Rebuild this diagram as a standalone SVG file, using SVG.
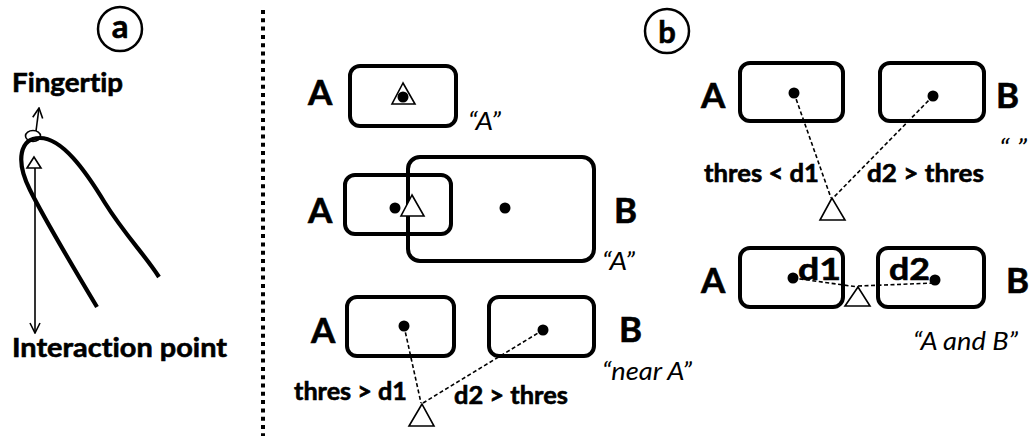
<svg xmlns="http://www.w3.org/2000/svg" width="1033" height="436" viewBox="0 0 1033 436">
  <defs>
    <style>
      text { font-variant-ligatures: none; font-feature-settings: "liga" 0, "dlig" 0; }
      .box { fill: none; stroke: #000; stroke-width: 4; }
      .dot { fill: #000; }
      .tri { fill: #fff; stroke: #000; stroke-width: 1.6; stroke-linejoin: miter; }
      .dash { fill: none; stroke: #000; stroke-width: 1.6; stroke-dasharray: 4 2.5; }
      .thin { fill: none; stroke: #000; stroke-width: 1.6; }
      .big, .cap, .mid { font-family: Lato, "Liberation Sans", sans-serif; font-weight: bold; fill: #000; stroke: #000; stroke-width: 0.6; }
      .big { font-size: 35px; }
      .cap { font-size: 27px; }
      .mid { font-size: 25px; }
      .q { font-family: Lato, "Liberation Sans", sans-serif; font-style: italic; font-size: 25px; fill: #000; }
      .badge { fill: none; stroke: #000; stroke-width: 2.5; }
    </style>
    <marker id="open" viewBox="0 0 12 12" refX="11" refY="6" markerWidth="12" markerHeight="12" markerUnits="userSpaceOnUse" orient="auto">
      <path d="M1 1 L11 6 L1 11" fill="none" stroke="#000" stroke-width="1.6"/>
    </marker>
  </defs>

  <!-- panel badges -->
  <g id="badge-a">
    <circle class="badge" cx="120" cy="29" r="22"/>
    <text class="cap" x="120" y="38" text-anchor="middle" style="font-size:33px">a</text>
  </g>
  <g id="badge-b">
    <circle class="badge" cx="667" cy="31" r="22"/>
    <text class="cap" x="667" y="43" text-anchor="middle" style="font-size:31px">b</text>
  </g>

  <!-- divider -->
  <line x1="263" y1="10" x2="263" y2="436" stroke="#000" stroke-width="4" stroke-dasharray="4 4.3"/>

  <!-- panel a: finger sketch -->
  <g id="finger">
    <path d="M97 307 C70 262 45 220 30 190 C15 160 20 138 40 138 C62 138 85 170 105 203 C125 235 145 255 159 277" fill="none" stroke="#000" stroke-width="4.2" stroke-linecap="butt"/>
    <ellipse cx="33" cy="136" rx="7.5" ry="5.5" class="thin"/>
  </g>
  <g id="interaction-marker">
    <polygon class="tri" points="34,157 27,168 41,168"/>
  </g>
  <g id="label-fingertip">
    <text class="cap" x="12" y="92" textLength="111" lengthAdjust="spacingAndGlyphs">Fingertip</text>
  </g>
  <g id="label-interaction">
    <text class="cap" x="12" y="357" textLength="215" lengthAdjust="spacingAndGlyphs">Interaction point</text>
  </g>

  <!-- panel b, column 1 -->
  <g id="row1">
    <text class="big" x="308" y="105">A</text>
    <rect class="box" x="350" y="66" width="106" height="60" rx="10"/>
    <polygon class="tri" points="403,83 392,104 415,104"/>
    <circle class="dot" cx="403" cy="97" r="5.5"/>
    <text class="q" x="468" y="130" textLength="33" lengthAdjust="spacingAndGlyphs">“A”</text>
  </g>

  <g id="row2">
    <text class="big" x="308" y="223">A</text>
    <rect class="box" x="345" y="175" width="106" height="59" rx="10"/>
    <rect class="box" x="408" y="157" width="186" height="104" rx="12"/>
    <circle class="dot" cx="395" cy="208" r="5.5"/>
    <polygon class="tri" points="412,195 401,216 424,216"/>
    <circle class="dot" cx="505" cy="208" r="5.5"/>
    <text class="big" x="614" y="223">B</text>
    <text class="q" x="602" y="270" textLength="33" lengthAdjust="spacingAndGlyphs">“A”</text>
  </g>

  <g id="row3">
    <text class="big" x="311" y="343">A</text>
    <rect class="box" x="347" y="297" width="107" height="59" rx="10"/>
    <circle class="dot" cx="404" cy="326" r="5.5"/>
    <rect class="box" x="489" y="297" width="105" height="59" rx="10"/>
    <circle class="dot" cx="543" cy="330" r="5.5"/>
    <polygon class="tri" points="422,404 409,426 434,426"/>
    <text class="big" x="619" y="342">B</text>
    <text class="q" x="602" y="380" textLength="90" lengthAdjust="spacingAndGlyphs">“near A”</text>
    <text class="mid" x="294" y="400" textLength="113" lengthAdjust="spacingAndGlyphs">thres &gt; d1</text>
    <text class="mid" x="454" y="404" textLength="114" lengthAdjust="spacingAndGlyphs">d2 &gt; thres</text>
  </g>

  <!-- panel b, column 2 -->
  <g id="row4">
    <text class="big" x="701" y="108">A</text>
    <rect class="box" x="740" y="63" width="103" height="58" rx="10"/>
    <circle class="dot" cx="794" cy="93" r="5.5"/>
    <rect class="box" x="880" y="63" width="104" height="58" rx="10"/>
    <circle class="dot" cx="933" cy="96" r="5.5"/>
    <polygon class="tri" points="832,198 820,220 845,220"/>
    <text class="big" x="996" y="108">B</text>
    <text class="q" x="999" y="157" textLength="28" lengthAdjust="spacingAndGlyphs">“ ”</text>
    <text class="mid" x="704" y="182" textLength="115" lengthAdjust="spacingAndGlyphs">thres &lt; d1</text>
    <text class="mid" x="867" y="182" textLength="117" lengthAdjust="spacingAndGlyphs">d2 &gt; thres</text>
  </g>

  <g id="row5">
    <text class="big" x="701" y="293">A</text>
    <rect class="box" x="740" y="248" width="103" height="59" rx="10"/>
    <circle class="dot" cx="793" cy="278" r="5.5"/>
    <rect class="box" x="878" y="248" width="106" height="59" rx="10"/>
    <circle class="dot" cx="935" cy="280" r="5.5"/>
    <polygon class="tri" points="858,287 845,306 870,306"/>
    <text class="big" x="1006" y="293">B</text>
    <text class="mid" x="798" y="280" style="font-size:30px" textLength="43" lengthAdjust="spacingAndGlyphs">d1</text>
    <text class="mid" x="889" y="280" style="font-size:30px" textLength="41" lengthAdjust="spacingAndGlyphs">d2</text>
    <text class="q" x="913" y="350" textLength="105" lengthAdjust="spacingAndGlyphs">“A and B”</text>
  </g>

  <!-- connectors -->
  <g id="connectors">
    <line class="thin" x1="36" y1="131" x2="39" y2="108" marker-end="url(#open)"/>
    <line class="thin" x1="35" y1="168" x2="35" y2="333" marker-end="url(#open)"/>
    <line class="dash" x1="404" y1="326" x2="421" y2="403"/>
    <line class="dash" x1="543" y1="330" x2="423" y2="403"/>
    <line class="dash" x1="794" y1="93" x2="831" y2="198"/>
    <line class="dash" x1="933" y1="96" x2="833" y2="198"/>
    <line class="dash" x1="793" y1="278" x2="858" y2="287"/>
    <line class="dash" x1="858" y1="286" x2="935" y2="283"/>
  </g>
</svg>
